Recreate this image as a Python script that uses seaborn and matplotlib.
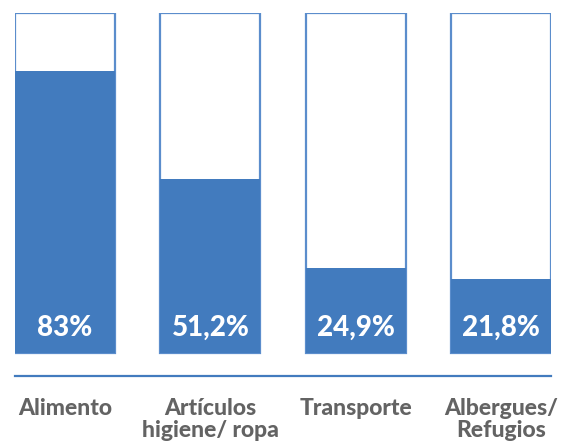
import pandas as pd
import seaborn as sns
import matplotlib.pyplot as plt

CATEGORIES = ["Alimento", "Artículos\nhigiene/ ropa", "Transporte", "Albergues/\nRefugios"]
VALUES = [83.0, 51.2, 24.9, 21.8]
LABELS = ["83%", "51,2%", "24,9%", "21,8%"]
TOTAL = [100, 100, 100, 100]

FILL = "#427BBE"
EDGE = "#5B8DCC"
TEXT_GREY = "#636363"

sns.set_theme(style="white")
plt.rcParams["font.family"] = ["Lato", "DejaVu Sans"]

df = pd.DataFrame({"cat": CATEGORIES, "value": VALUES, "total": TOTAL, "label": LABELS})

fig = plt.figure(figsize=(5.63, 4.42), dpi=100)
# axes spans from the bottom rule (y=376px) to the top of the outline boxes (y=13px)
ax = fig.add_axes([15 / 563, (442 - 376) / 442, 536 / 563, 363 / 442])

sns.barplot(data=df, x="cat", y="total", color="white", edgecolor=EDGE,
            linewidth=1.6, width=0.69, ax=ax)
sns.barplot(data=df, x="cat", y="value", color=FILL, saturation=1,
            linewidth=0, width=0.69, ax=ax)

for i, lab in enumerate(df["label"]):
    ax.text(i, 7.3, lab, ha="center", va="center", color="white",
            fontsize=20, fontweight="black")

ax.set_xlim(-0.345, 3.345)
ax.set_ylim(-6.8, 100)
ax.set_xlabel("")
ax.set_ylabel("")
ax.set_yticks([])
for side in ["top", "left", "right"]:
    ax.spines[side].set_visible(False)
ax.spines["bottom"].set_color(FILL)
ax.spines["bottom"].set_linewidth(1.6)
ax.tick_params(axis="x", length=0, pad=16)
for t in ax.get_xticklabels():
    t.set_fontsize(16.5)
    t.set_fontweight("black")
    t.set_color(TEXT_GREY)
    t.set_linespacing(1.05)

fig.savefig("out.png", dpi=100)
